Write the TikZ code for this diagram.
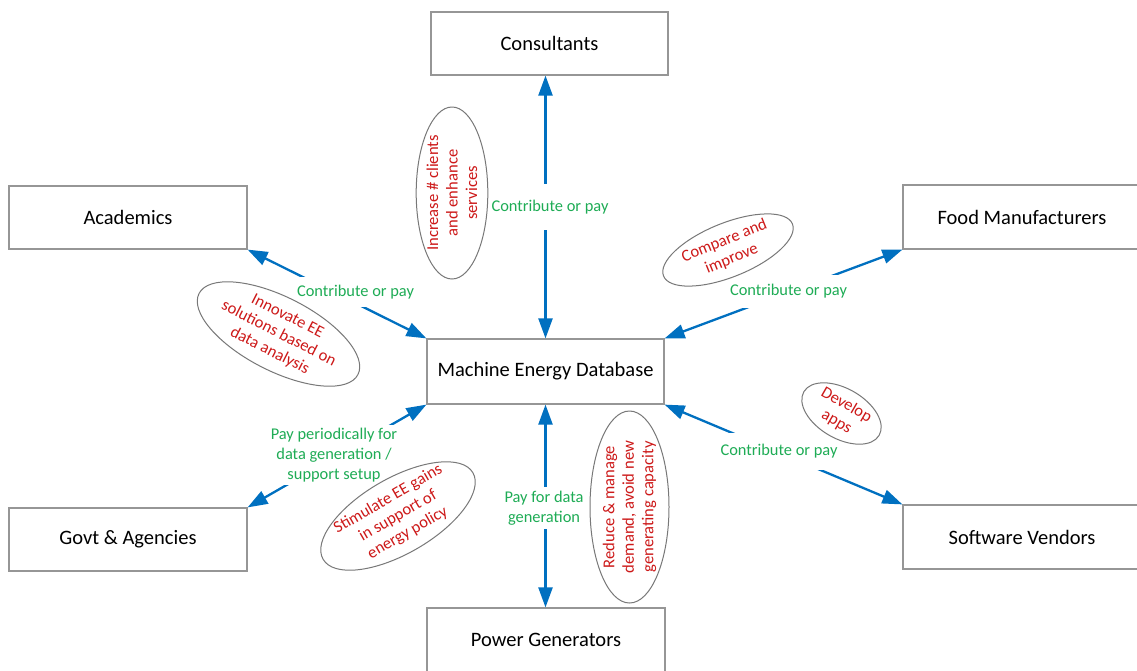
\documentclass[tikz,border=0pt]{standalone}
\usepackage{fontspec}
\setmainfont{Carlito}
\usetikzlibrary{arrows.meta,shapes.geometric}
\definecolor{arrblue}{RGB}{0,112,192}
\definecolor{lblgreen}{RGB}{30,172,85}
\definecolor{notered}{RGB}{205,25,25}
\definecolor{boxgray}{RGB}{150,150,150}
\definecolor{ellgray}{RGB}{120,120,120}
\begin{document}
\begin{tikzpicture}[x=1pt,y=-1pt,
  box/.style={draw=boxgray, line width=1.2pt, minimum width=237pt, minimum height=63pt, inner sep=0pt, font=\fontsize{20.5}{24}\selectfont, text=black},
  conn/.style={draw=arrblue, line width=2.3pt, {Triangle[length=20pt,width=14pt]}-{Triangle[length=20pt,width=14pt]}},
  lbl/.style={fill=white, text=lblgreen, font=\fontsize{16.4}{20}\selectfont, align=center, inner xsep=2pt},
  note/.style={draw=ellgray, line width=1pt, ellipse, inner sep=0pt, text=notered, font=\fontsize{16.6}{19.5}\selectfont, align=center}
]
\fill[white] (0,0) rectangle (1137,670);
\useasboundingbox (0,0) rectangle (1137,670);

% boxes
\node[box] (cons) at (549.5,43.5) {Consultants};
\node[box, minimum width=238pt] (acad) at (128,217.5) {Academics};
\node[box, minimum width=238pt, minimum height=64pt] (food) at (1022,217) {Food Manufacturers};
\node[box, minimum height=65pt] (med) at (545.5,371.5) {Machine Energy Database};
\node[box, minimum width=238pt] (govt) at (128,539.5) {Govt \& Agencies};
\node[box, minimum width=238pt, minimum height=64pt] (soft) at (1022,537) {Software Vendors};
\node[box, minimum width=238pt, minimum height=64pt] (power) at (546,640) {Power Generators};

% connectors
\draw[conn] (med.north) -- (med.north |- cons.south);
\draw[conn] (med.north west) -- (acad.south east);
\draw[conn] (med.north east) -- (food.south west);
\draw[conn] (med.south west) -- (govt.north east);
\draw[conn] (med.south east) -- (soft.north west);
\draw[conn] (med.south) -- (med.south |- power.north);

% connector labels
\node[lbl, inner ysep=16pt] (l1) at (550,207) {Contribute or pay};
\node[lbl, inner ysep=8pt] (l2) at (355.5,292) {Contribute or pay};
\node[lbl, inner ysep=9pt] (l3) at (788.5,291.5) {Contribute or pay};
\node[lbl, inner ysep=3pt] (l4) at (334,455) {Pay periodically for\\data generation /\\support setup};
\node[lbl, inner ysep=11pt] (l5) at (779,451.5) {Contribute or pay};
\node[lbl, inner ysep=4pt] (l6) at (544,508) {Pay for data\\generation};

% notes
\node[note, minimum width=172pt, minimum height=70pt, rotate=90] (e1) at (452,193) {Increase \# clients\\and enhance\\services};
\node[note, minimum width=164pt, minimum height=70pt, rotate=-27] (e2) at (278.5,334) {Innovate EE\\solutions based on\\data analysis};
\node[note, minimum width=173pt, minimum height=71pt, rotate=30] (e3) at (398,516) {Stimulate EE gains\\in support of\\energy policy};
\node[note, minimum width=192pt, minimum height=79pt, rotate=90] (e4) at (629.5,507) {Reduce \& manage\\demand, avoid new\\generating capacity};
\node[note, minimum width=139pt, minimum height=54pt, rotate=22] (e5) at (728,250) {Compare and\\improve};
\node[note, minimum width=87pt, minimum height=50pt, rotate=-30] (e6) at (841.5,413.5) {Develop\\apps};
\end{tikzpicture}
\end{document}
